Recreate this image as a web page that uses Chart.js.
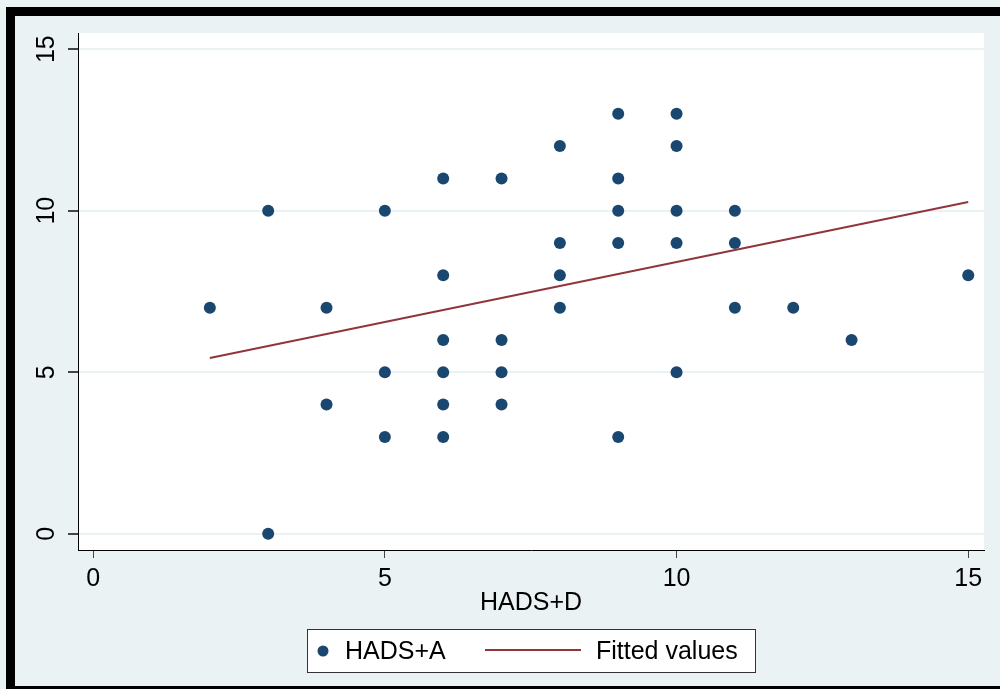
<!DOCTYPE html>
<html>
<head>
<meta charset="utf-8">
<script src="https://cdn.jsdelivr.net/npm/chart.js@4/dist/chart.umd.min.js"></script>
<style>
  html, body { margin: 0; padding: 0; background: #eaf2f3; }
  #wrap { width: 1000px; height: 689px; }
</style>
</head>
<body>
<div id="wrap"><canvas id="c" width="1000" height="689"></canvas></div>
<script>
// HADS+D (x) vs HADS+A (y)
const hadsD = [2, 3, 3, 4, 4, 5, 5, 5, 6, 6, 6, 6, 6, 6, 7, 7, 7, 7, 8, 8, 8, 8, 9, 9, 9, 9, 9, 10, 10, 10, 10, 10, 11, 11, 11, 12, 13, 15];
const hadsA = [7, 10, 0, 7, 4, 10, 5, 3, 11, 8, 6, 5, 4, 3, 11, 6, 5, 4, 12, 9, 8, 7, 13, 11, 10, 9, 3, 13, 12, 10, 9, 5, 10, 9, 7, 7, 6, 8];

// fitted line end points
const fitX = [2, 15];
const fitY = [5.44, 10.27];

const xTicks = [0, 5, 10, 15];
const yTicks = [0, 5, 10, 15];

const navy = '#1a476f';
const maroon = '#90353b';
const bg = '#eaf2f3';
const font = '"Liberation Sans", Arial, sans-serif';

const scatterPts = hadsD.map((x, i) => ({ x: x, y: hadsA[i] }));
const fitPts = fitX.map((x, i) => ({ x: x, y: fitY[i] }));

// background, white plot region, outer black frame, legend box
const stataFrame = {
    id: 'stataFrame',
    beforeDraw(chart) {
        const ctx = chart.ctx;
        const a = chart.chartArea;
        ctx.save();
        ctx.fillStyle = bg;
        ctx.fillRect(0, 0, chart.width, chart.height);
        ctx.fillStyle = '#000';
        ctx.fillRect(6, 7, 994, 9);
        ctx.fillRect(6, 7, 9, 682);
        ctx.fillRect(6, 686, 994, 3);
        ctx.fillStyle = '#fff';
        ctx.fillRect(a.left, a.top, a.right - a.left, a.bottom - a.top);
        ctx.restore();
    },
    afterDraw(chart) {
        const ctx = chart.ctx;
        ctx.save();
        ctx.fillStyle = '#fff';
        ctx.fillRect(307, 629, 448, 43);
        ctx.strokeStyle = '#333';
        ctx.lineWidth = 1;
        ctx.strokeRect(307.5, 629.5, 448, 43);
        ctx.fillStyle = navy;
        ctx.beginPath();
        ctx.arc(323, 651, 5.5, 0, Math.PI * 2);
        ctx.fill();
        ctx.fillStyle = '#000';
        ctx.font = '25px ' + font;
        ctx.textBaseline = 'middle';
        ctx.fillText('HADS+A', 345, 652);
        ctx.strokeStyle = maroon;
        ctx.lineWidth = 2;
        ctx.beginPath();
        ctx.moveTo(485, 650);
        ctx.lineTo(581, 650);
        ctx.stroke();
        ctx.fillText('Fitted values', 596, 652);
        ctx.restore();
    }
};

new Chart(document.getElementById('c'), {
    type: 'scatter',
    data: {
        datasets: [
            {
                label: 'HADS+A',
                data: scatterPts,
                backgroundColor: navy,
                borderColor: navy,
                pointRadius: 6,
                pointBorderWidth: 0
            },
            {
                label: 'Fitted values',
                data: fitPts,
                showLine: true,
                borderColor: maroon,
                borderWidth: 2,
                pointRadius: 0
            }
        ]
    },
    options: {
        responsive: false,
        animation: false,
        layout: { padding: { left: 15, top: 33, right: 16, bottom: 71 } },
        plugins: {
            legend: { display: false },
            tooltip: { enabled: false }
        },
        scales: {
            x: {
                type: 'linear',
                min: -0.26,
                max: 15.27,
                afterBuildTicks: s => { s.ticks = xTicks.map(v => ({ value: v })); },
                afterFit: s => { s.height = 68; },
                grid: { drawOnChartArea: false, drawTicks: true, tickLength: 8, tickColor: '#444' },
                border: { color: '#000', width: 1 },
                ticks: { color: '#000', font: { family: font, size: 25 }, padding: 6 },
                title: {
                    display: true,
                    text: 'HADS+D',
                    color: '#000',
                    font: { family: font, size: 25 },
                    padding: 0
                }
            },
            y: {
                type: 'linear',
                min: -0.5,
                max: 15.5,
                afterBuildTicks: s => { s.ticks = yTicks.map(v => ({ value: v })); },
                afterFit: s => { s.width = 63; },
                grid: { color: bg, lineWidth: 2, drawTicks: true, tickLength: 10, tickColor: '#444' },
                border: { color: '#000', width: 1 },
                ticks: {
                    color: '#000',
                    font: { family: font, size: 25 },
                    minRotation: 90,
                    maxRotation: 90,
                    crossAlign: 'center',
                    padding: 7
                }
            }
        }
    },
    plugins: [stataFrame]
});
</script>
</body>
</html>
